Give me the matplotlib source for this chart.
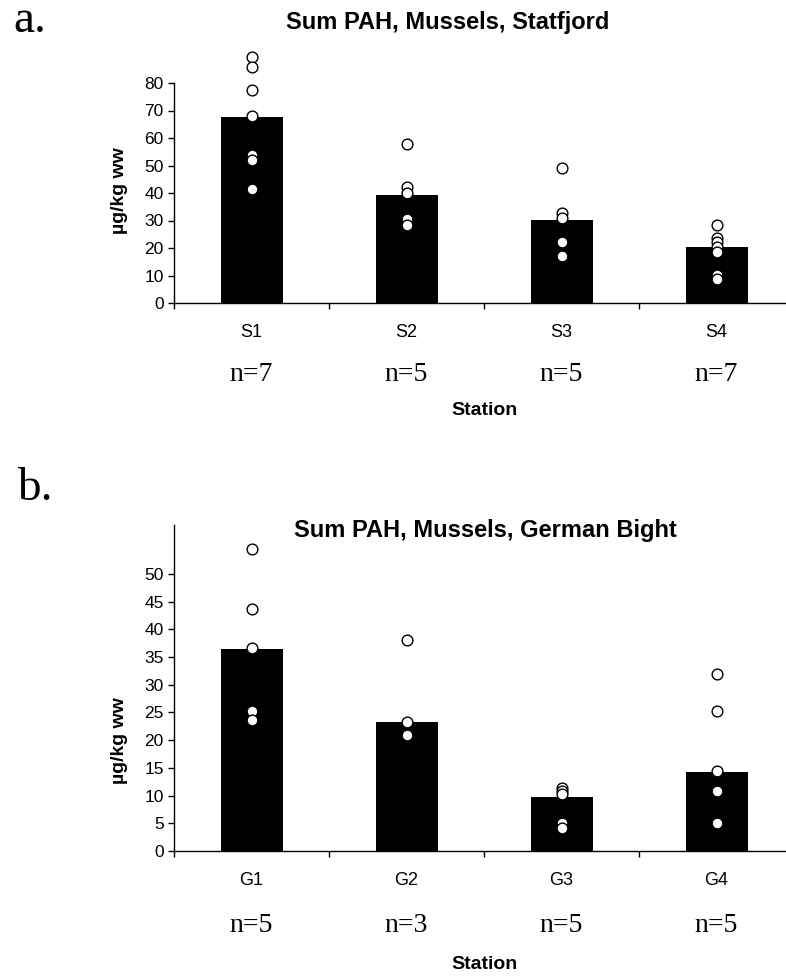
import matplotlib
matplotlib.use("Agg")
import matplotlib.pyplot as plt
import numpy as np

# ---- data ----
top_stations = ["S1", "S2", "S3", "S4"]
top_means = [67.6, 39.3, 30.2, 20.4]
top_n = [7, 5, 5, 7]
s1_pts = [89.3, 86.0, 77.3, 68.1, 53.7, 52.0, 41.3]
s2_pts = [57.8, 42.3, 39.9, 30.5, 28.4]
s3_pts = [49.0, 32.6, 30.8, 22.1, 17.2]
s4_pts = [28.4, 23.5, 22.1, 20.5, 18.4, 10.2, 8.6]
top_yticks = [0, 10, 20, 30, 40, 50, 60, 70, 80]

bot_stations = ["G1", "G2", "G3", "G4"]
bot_means = [36.4, 23.2, 9.8, 14.2]
bot_n = [5, 3, 5, 5]
g1_pts = [54.4, 43.6, 36.6, 25.3, 23.6]
g2_pts = [38.0, 23.2, 20.9]
g3_pts = [11.4, 10.9, 10.3, 5.1, 4.2]
g4_pts = [31.9, 25.2, 14.5, 10.9, 5.1]
bot_yticks = [0, 5, 10, 15, 20, 25, 30, 35, 40, 45, 50]

SANS = ["Liberation Sans", "Arial", "DejaVu Sans"]
SERIF = ["Liberation Serif", "Times New Roman", "DejaVu Serif"]
plt.rcParams["font.family"] = SANS

W, H = 786, 977
fig = plt.figure(figsize=(W / 100, H / 100), dpi=100)


def px_axes(left, right, top, bottom):
    return fig.add_axes([left / W, 1 - bottom / H, (right - left) / W, (bottom - top) / H])


def draw(ax, stations, means, pts, ns, yticks, ymax, title_xy, title,
         ylabel_y, xlabel_y, n_offset):
    x = np.arange(len(stations))
    ax.bar(x, means, width=0.4, color="black", zorder=2)
    for i, p in enumerate(pts):
        ax.scatter(np.full(len(p), x[i]), p, s=60, facecolor="white",
                   edgecolor="black", linewidth=1.0, zorder=3, clip_on=False)
    ax.set_xlim(-0.5, len(stations) - 0.5)
    ax.set_ylim(0, ymax)
    ax.set_yticks(yticks)
    ax.tick_params(axis="y", direction="out", length=4.3, width=1.0,
                   labelsize=12.5, pad=3)
    ax.set_xticks(x, stations)
    ax.tick_params(axis="x", which="major", length=0, labelsize=13, pad=15)
    ax.set_xticks(np.arange(len(stations) + 1) - 0.5, minor=True)
    ax.tick_params(axis="x", which="minor", direction="out", length=4.3, width=1.0)
    for s in ["top", "right"]:
        ax.spines[s].set_visible(False)
    for s in ["left", "bottom"]:
        ax.spines[s].set_linewidth(1.0)
    ax.set_ylabel("µg/kg ww", fontsize=14, fontweight="bold")
    ax.yaxis.set_label_coords(-0.074, ylabel_y)
    ax.set_xlabel("Station", fontsize=14, fontweight="bold")
    ax.xaxis.set_label_coords(0.5, xlabel_y)
    for i, n in enumerate(ns):
        ax.annotate(f"n={n}", xy=(x[i], 0), xycoords=("data", "axes fraction"),
                    xytext=(0, -n_offset), textcoords="offset points",
                    ha="center", va="baseline", fontsize=20, family=SERIF)
    fig.text(title_xy[0] / W, 1 - title_xy[1] / H, title, ha="center",
             va="baseline", fontsize=17, fontweight="bold")


ax1 = px_axes(174, 794, 83, 303)
draw(ax1, top_stations, top_means, [s1_pts, s2_pts, s3_pts, s4_pts], top_n,
     top_yticks, 80, (448, 29), "Sum PAH, Mussels, Statfjord",
     0.509, -0.45, 78 * 0.72)

ax2 = px_axes(174, 794, 525, 851)
draw(ax2, bot_stations, bot_means, [g1_pts, g2_pts, g3_pts, g4_pts], bot_n,
     bot_yticks, 58.8, (485, 537), "Sum PAH, Mussels, German Bight",
     0.34, -0.322, 81 * 0.72)

fig.text(13 / W, 1 - 32 / H, "a.", fontsize=34, family=SERIF, ha="left", va="baseline")
fig.text(17 / W, 1 - 500 / H, "b.", fontsize=34, family=SERIF, ha="left", va="baseline")

fig.savefig("out.png", dpi=100)
